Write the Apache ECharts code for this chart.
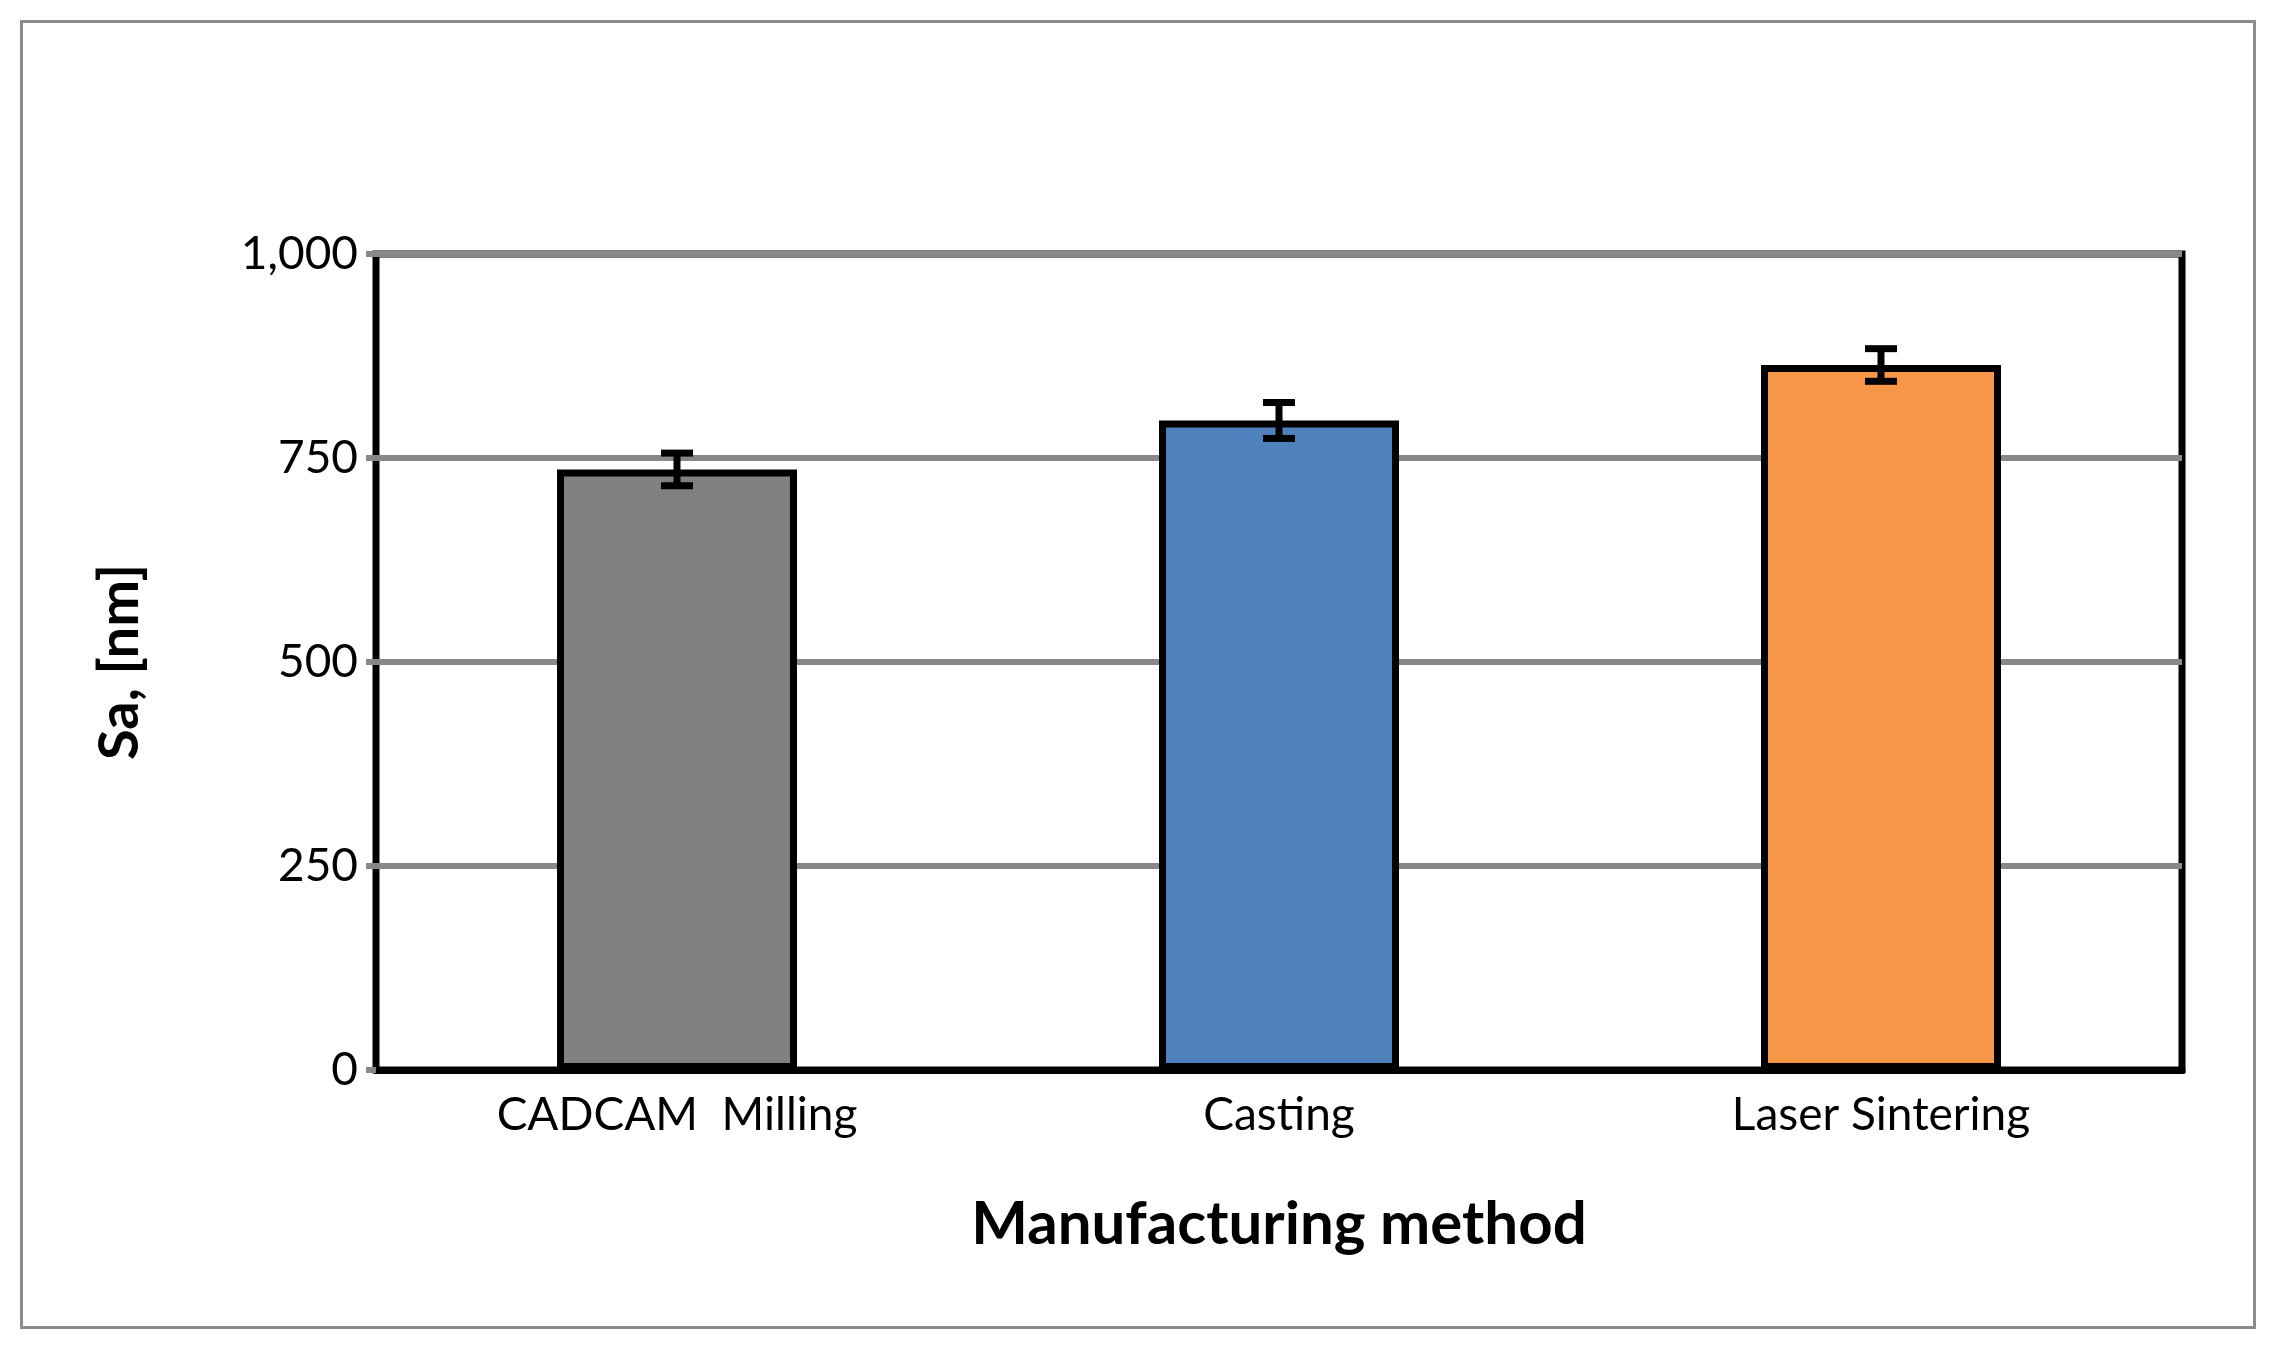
<!doctype html>
<html>
<head>
<meta charset="UTF-8">
<title>Sa by manufacturing method</title>
<script src="https://cdn.jsdelivr.net/npm/echarts@6/dist/echarts.min.js"></script>
<style>
  html, body { margin: 0; padding: 0; background: #fff; }
  #frame { position: absolute; left: 20px; top: 20px; width: 2230px; height: 1303px; border: 3px solid #8c8c8c; }
  #main { position: absolute; left: 0; top: 0; width: 2274px; height: 1351px; }
</style>
</head>
<body>
<div id="frame"></div>
<div id="main"></div>
<script>
  var categories = ['CADCAM  Milling', 'Casting', 'Laser Sintering'];
  var means = [736, 796, 864];
  var errors = [20, 22, 20];
  var colors = ['#808080', '#4f81bd', '#f79646'];
  var yTicks = [0, 250, 500, 750, 1000];

  var chart = echarts.init(document.getElementById('main'));
  var font = 'Lato, "Open Sans", sans-serif';

  var option = {
    animation: false,
    grid: { left: 376, right: 92, top: 254, bottom: 281, show: true, borderColor: '#000', borderWidth: 7, backgroundColor: 'transparent' },
    xAxis: {
      type: 'category',
      data: categories,
      axisLine: { show: true, lineStyle: { color: '#000', width: 7 } },
      axisTick: { show: false },
      axisLabel: { color: '#000', fontSize: 46, fontFamily: font, margin: 22 },
      name: 'Manufacturing method',
      nameLocation: 'middle',
      nameGap: 125,
      nameTextStyle: { color: '#000', fontSize: 60, fontWeight: 'bold', fontFamily: font }
    },
    yAxis: {
      type: 'value',
      min: 0, max: 1000, interval: 250,
      axisLine: { show: false },
      axisTick: { show: true, length: 10, lineStyle: { color: '#888', width: 6 } },
      axisLabel: { color: '#000', fontSize: 46, fontFamily: font, margin: 18 },
      splitLine: { lineStyle: { color: '#888', width: 6 } },
      name: 'Sa, [nm]',
      nameLocation: 'middle',
      nameGap: 228,
      nameTextStyle: { color: '#000', fontSize: 56, fontWeight: 'bold', fontFamily: font }
    },
    series: [
      {
        type: 'bar',
        barWidth: 240,
        data: means.map(function (v, i) {
          return { value: v, itemStyle: { color: colors[i], borderColor: '#000', borderWidth: 7 } };
        }),
        z: 2
      },
      {
        type: 'custom',
        z: 5,
        data: means.map(function (v, i) { return [i, v - errors[i], v + errors[i]]; }),
        renderItem: function (params, api) {
          var lo = api.coord([api.value(0), api.value(1)]);
          var hi = api.coord([api.value(0), api.value(2)]);
          var hw = 16;
          var st = { stroke: '#000', lineWidth: 7 };
          return {
            type: 'group',
            children: [
              { type: 'line', shape: { x1: lo[0], y1: lo[1], x2: hi[0], y2: hi[1] }, style: st },
              { type: 'line', shape: { x1: lo[0] - hw, y1: lo[1], x2: lo[0] + hw, y2: lo[1] }, style: st },
              { type: 'line', shape: { x1: hi[0] - hw, y1: hi[1], x2: hi[0] + hw, y2: hi[1] }, style: st }
            ]
          };
        }
      }
    ]
  };
  chart.setOption(option);
</script>
</body>
</html>
